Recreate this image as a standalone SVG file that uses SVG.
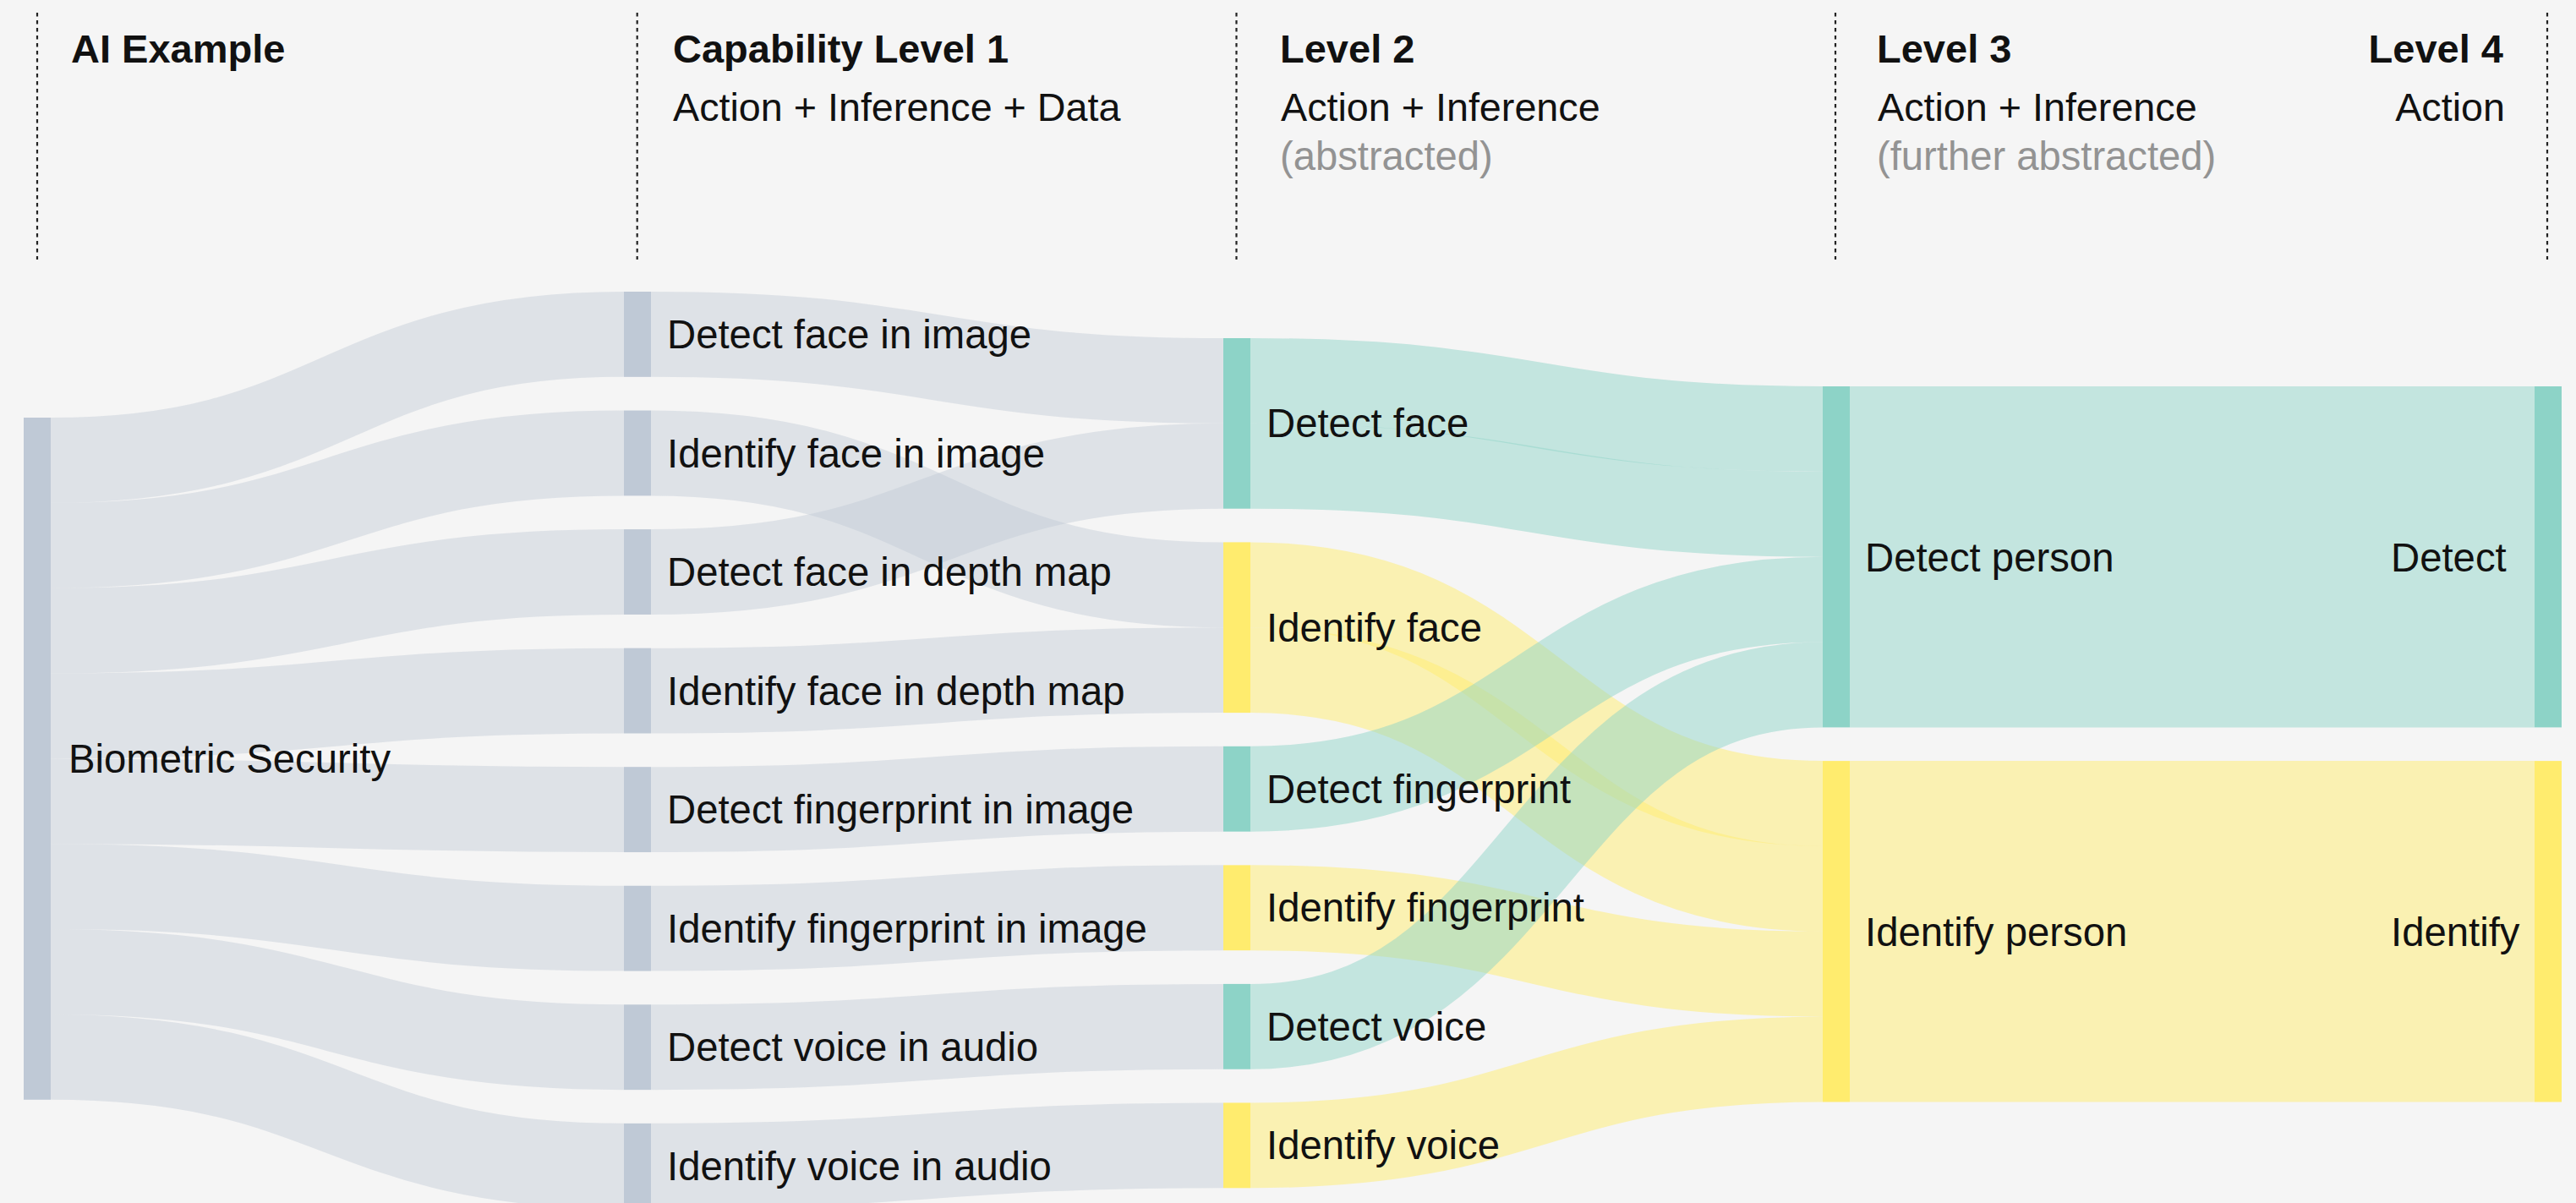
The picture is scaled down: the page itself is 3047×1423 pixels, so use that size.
<svg xmlns="http://www.w3.org/2000/svg" width="3047" height="1423" viewBox="0 0 3047 1423">
<style>
  text { font-family: "Liberation Sans", Arial, sans-serif; fill: #111; }
  .hd { font-size: 47px; font-weight: bold; }
  .sub { font-size: 46.7px; }
  .note { font-size: 47.2px; fill: #939393; }
  .lbl { font-size: 47.3px; }
  .guide { stroke: #222; stroke-width: 2.2; stroke-dasharray: 4.5 4.5; fill: none; }
  .link { fill: none; }
  .lg { stroke: #bfc9d5; stroke-opacity: 0.42; }
  .lt { stroke: #8dd3c7; stroke-opacity: 0.48; }
  .ly { stroke: #ffed6f; stroke-opacity: 0.5; }
  .ng { fill: #bfc9d6; }
  .nt { fill: #8dd3c7; }
  .ny { fill: #ffec6e; }
</style>
<rect x="0" y="0" width="3047" height="1423" fill="#f5f5f5"/>

<g id="guides">
  <line class="guide" x1="44" y1="15" x2="44" y2="307"/>
  <line class="guide" x1="753.7" y1="15" x2="753.7" y2="307"/>
  <line class="guide" x1="1462.5" y1="15" x2="1462.5" y2="307"/>
  <line class="guide" x1="2171" y1="15" x2="2171" y2="307"/>
  <line class="guide" x1="3013" y1="15" x2="3013" y2="307"/>
</g>

<g id="headers">
  <text class="hd" x="84" y="74">AI Example</text>
  <text class="hd" x="796" y="74">Capability Level 1</text>
  <text class="sub" x="796" y="143">Action + Inference + Data</text>
  <text class="hd" x="1514" y="74">Level 2</text>
  <text class="sub" x="1515" y="143">Action + Inference</text>
  <text class="note" x="1514" y="201">(abstracted)</text>
  <text class="hd" x="2220" y="74">Level 3</text>
  <text class="sub" x="2221" y="143">Action + Inference</text>
  <text class="note" x="2220" y="201">(further abstracted)</text>
  <text class="hd" x="2961" y="74" text-anchor="end">Level 4</text>
  <text class="sub" x="2963" y="143" text-anchor="end">Action</text>
</g>

<g id="connectors">
  <!-- Biometric Security -> Level 1 -->
  <path class="link lg" stroke-width="100.85" d="M60,544.43 C399,544.43 399,395.43 738,395.43"/>
  <path class="link lg" stroke-width="100.85" d="M60,645.28 C399,645.28 399,535.98 738,535.98"/>
  <path class="link lg" stroke-width="100.85" d="M60,746.13 C399,746.13 399,676.53 738,676.53"/>
  <path class="link lg" stroke-width="100.85" d="M60,846.98 C399,846.98 399,817.08 738,817.08"/>
  <path class="link lg" stroke-width="100.85" d="M60,947.83 C399,947.83 399,957.63 738,957.63"/>
  <path class="link lg" stroke-width="100.85" d="M60,1048.68 C399,1048.68 399,1098.18 738,1098.18"/>
  <path class="link lg" stroke-width="100.85" d="M60,1149.53 C399,1149.53 399,1238.73 738,1238.73"/>
  <path class="link lg" stroke-width="100.85" d="M60,1250.38 C399,1250.38 399,1379.28 738,1379.28"/>
  <!-- Level 1 -> Level 2 -->
  <path class="link lg" stroke-width="100.85" d="M770,395.43 C1108.5,395.43 1108.5,450.43 1447,450.43"/>
  <path class="link lg" stroke-width="100.85" d="M770,535.98 C1108.5,535.98 1108.5,691.83 1447,691.83"/>
  <path class="link lg" stroke-width="100.85" d="M770,676.53 C1108.5,676.53 1108.5,551.28 1447,551.28"/>
  <path class="link lg" stroke-width="100.85" d="M770,817.08 C1108.5,817.08 1108.5,792.68 1447,792.68"/>
  <path class="link lg" stroke-width="100.85" d="M770,957.63 C1108.5,957.63 1108.5,933.23 1447,933.23"/>
  <path class="link lg" stroke-width="100.85" d="M770,1098.18 C1108.5,1098.18 1108.5,1073.78 1447,1073.78"/>
  <path class="link lg" stroke-width="100.85" d="M770,1238.73 C1108.5,1238.73 1108.5,1214.33 1447,1214.33"/>
  <path class="link lg" stroke-width="100.85" d="M770,1379.28 C1108.5,1379.28 1108.5,1354.88 1447,1354.88"/>
  <!-- Level 2 -> Level 3 -->
  <path class="link lt" stroke-width="100.85" d="M1479,450.43 C1817.5,450.43 1817.5,507.43 2156,507.43"/>
  <path class="link lt" stroke-width="100.85" d="M1479,551.28 C1817.5,551.28 1817.5,608.28 2156,608.28"/>
  <path class="link ly" stroke-width="100.85" d="M1479,691.83 C1817.5,691.83 1817.5,950.53 2156,950.53"/>
  <path class="link ly" stroke-width="100.85" d="M1479,792.68 C1817.5,792.68 1817.5,1051.38 2156,1051.38"/>
  <path class="link lt" stroke-width="100.85" d="M1479,933.23 C1817.5,933.23 1817.5,709.13 2156,709.13"/>
  <path class="link ly" stroke-width="100.85" d="M1479,1073.78 C1817.5,1073.78 1817.5,1152.23 2156,1152.23"/>
  <path class="link lt" stroke-width="100.85" d="M1479,1214.33 C1817.5,1214.33 1817.5,809.98 2156,809.98"/>
  <path class="link ly" stroke-width="100.85" d="M1479,1354.88 C1817.5,1354.88 1817.5,1253.08 2156,1253.08"/>
  <!-- Level 3 -> Level 4 -->
  <path class="link lt" stroke-width="403.4" d="M2188,658.7 L2998,658.7"/>
  <path class="link ly" stroke-width="403.4" d="M2188,1101.8 L2998,1101.8"/>
</g>

<g id="node-biometric-security">
  <rect class="ng" x="28" y="494" width="32" height="806.8"/>
  <text class="lbl" x="81" y="914">Biometric Security</text>
</g>

<g id="node-detect-face-in-image">
  <rect class="ng" x="738" y="345" width="32" height="100.85"/>
  <text class="lbl" x="789" y="412">Detect face in image</text>
</g>
<g id="node-identify-face-in-image">
  <rect class="ng" x="738" y="485.55" width="32" height="100.85"/>
  <text class="lbl" x="789" y="552.5">Identify face in image</text>
</g>
<g id="node-detect-face-in-depth-map">
  <rect class="ng" x="738" y="626.1" width="32" height="100.85"/>
  <text class="lbl" x="789" y="693">Detect face in depth map</text>
</g>
<g id="node-identify-face-in-depth-map">
  <rect class="ng" x="738" y="766.65" width="32" height="100.85"/>
  <text class="lbl" x="789" y="833.6">Identify face in depth map</text>
</g>
<g id="node-detect-fingerprint-in-image">
  <rect class="ng" x="738" y="907.2" width="32" height="100.85"/>
  <text class="lbl" x="789" y="974.1">Detect fingerprint in image</text>
</g>
<g id="node-identify-fingerprint-in-image">
  <rect class="ng" x="738" y="1047.75" width="32" height="100.85"/>
  <text class="lbl" x="789" y="1114.7">Identify fingerprint in image</text>
</g>
<g id="node-detect-voice-in-audio">
  <rect class="ng" x="738" y="1188.3" width="32" height="100.85"/>
  <text class="lbl" x="789" y="1255.2">Detect voice in audio</text>
</g>
<g id="node-identify-voice-in-audio">
  <rect class="ng" x="738" y="1328.85" width="32" height="100.85"/>
  <text class="lbl" x="789" y="1395.8">Identify voice in audio</text>
</g>

<g id="node-detect-face">
  <rect class="nt" x="1447" y="400" width="32" height="201.7"/>
  <text class="lbl" x="1498" y="517.4">Detect face</text>
</g>
<g id="node-identify-face">
  <rect class="ny" x="1447" y="641.4" width="32" height="201.7"/>
  <text class="lbl" x="1498" y="758.8">Identify face</text>
</g>
<g id="node-detect-fingerprint">
  <rect class="nt" x="1447" y="882.8" width="32" height="100.85"/>
  <text class="lbl" x="1498" y="949.7">Detect fingerprint</text>
</g>
<g id="node-identify-fingerprint">
  <rect class="ny" x="1447" y="1023.35" width="32" height="100.85"/>
  <text class="lbl" x="1498" y="1090.3">Identify fingerprint</text>
</g>
<g id="node-detect-voice">
  <rect class="nt" x="1447" y="1163.9" width="32" height="100.85"/>
  <text class="lbl" x="1498" y="1230.8">Detect voice</text>
</g>
<g id="node-identify-voice">
  <rect class="ny" x="1447" y="1304.45" width="32" height="100.85"/>
  <text class="lbl" x="1498" y="1371.4">Identify voice</text>
</g>

<g id="node-detect-person">
  <rect class="nt" x="2156" y="457" width="32" height="403.4"/>
  <text class="lbl" x="2206" y="675.5">Detect person</text>
</g>
<g id="node-identify-person">
  <rect class="ny" x="2156" y="900.1" width="32" height="403.4"/>
  <text class="lbl" x="2206" y="1118.6">Identify person</text>
</g>

<g id="node-detect">
  <rect class="nt" x="2998" y="457" width="32" height="403.4"/>
  <text class="lbl" x="2828" y="675.5">Detect</text>
</g>
<g id="node-identify">
  <rect class="ny" x="2998" y="900.1" width="32" height="403.4"/>
  <text class="lbl" x="2828" y="1118.6">Identify</text>
</g>
</svg>
